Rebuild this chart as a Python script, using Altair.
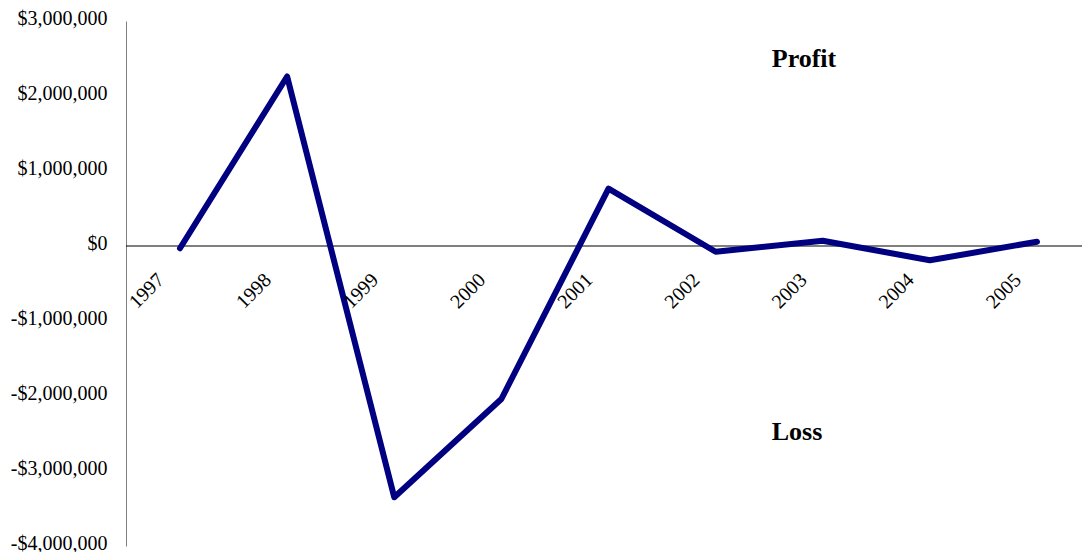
import altair as alt
import pandas as pd

years = ["1997", "1998", "1999", "2000", "2001", "2002", "2003", "2004", "2005"]
values = [-30000, 2260000, -3350000, -2040000, 765000, -77000, 69000, -190000, 56000]
y_ticks = [3000000, 2000000, 1000000, 0, -1000000, -2000000, -3000000, -4000000]
notes = ["Profit", "Loss"]
note_values = [2500000, -2480000]

df = pd.DataFrame({"year": years, "value": values})
df_notes = pd.DataFrame({"label": notes, "value": note_values, "year": ["2003", "2003"]})
df_zero = pd.DataFrame({"value": [0]})

FONT = "Liberation Serif"

x = alt.X("year:O", scale=alt.Scale(domain=years, type="point", range=[54, 911], padding=0), axis=None)
y_scale = alt.Scale(domain=[-4000000, 3000000], nice=False, zero=False)

line = alt.Chart(df).mark_line(
    color="#000080", strokeWidth=6, strokeJoin="round", strokeCap="round"
).encode(
    x=x,
    y=alt.Y(
        "value:Q",
        scale=y_scale,
        axis=alt.Axis(
            values=y_ticks,
            title=None,
            grid=False,
            ticks=False,
            domain=True,
            domainColor="#808080",
            domainWidth=1,
            labelFont=FONT,
            labelFontSize=20,
            labelColor="#000000",
            labelPadding=19,
            labelOffset=-3,
            labelExpr="datum.value < 0 ? '-$' + format(abs(datum.value), ',') : '$' + format(datum.value, ',')",
        ),
    ),
)

zero = alt.Chart(df_zero).mark_rule(color="#000000", strokeWidth=1.2).encode(
    y=alt.Y("value:Q", scale=y_scale)
)

year_labels = alt.Chart(df).mark_text(
    angle=315, align="right", baseline="middle", font=FONT, fontSize=20,
    color="#000000", xOffset=-19, yOffset=31,
).encode(
    x=x,
    y=alt.Y("zero:Q", scale=y_scale),
    text="year:N",
).transform_calculate(zero="0")

note_text = alt.Chart(df_notes).mark_text(
    align="left", baseline="middle", font=FONT, fontSize=26, fontWeight="bold",
    color="#000000", dx=-51,
).encode(
    x=x,
    y=alt.Y("value:Q", scale=y_scale),
    text="label:N",
)

chart = alt.layer(zero, line, year_labels, note_text).properties(
    width=956,
    height=525,
    background="white",
    autosize=alt.AutoSizeParams(type="none"),
    padding={"left": 118, "top": 13, "right": 0, "bottom": 6},
).configure_view(strokeWidth=0, stroke="transparent")

chart.save("out.html", embed_options={"renderer": "svg", "actions": False})
